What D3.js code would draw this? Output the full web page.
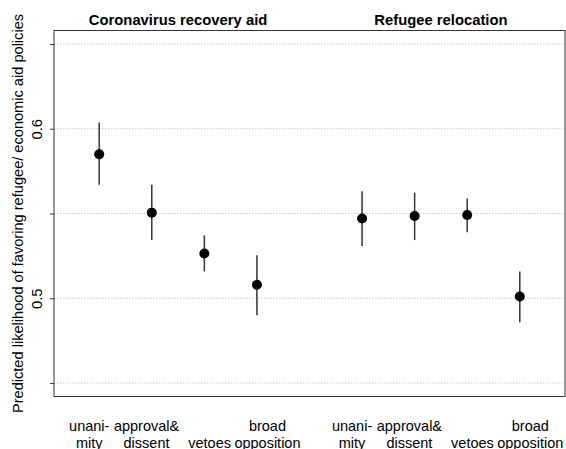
<!DOCTYPE html>
<html>
<head>
<meta charset="utf-8">
<script src="https://cdn.jsdelivr.net/npm/d3@7"></script>
<style>
  html, body { margin: 0; padding: 0; background: #fff; }
  svg { display: block; }
  text { font-family: "Liberation Sans", Arial, sans-serif; fill: #000; }
</style>
</head>
<body>
<svg id="chart" width="566" height="449"></svg>
<script>
// Panels and decision-rule categories
const panels = ["Coronavirus recovery aid", "Refugee relocation"];
const categoryLine1 = ["unani-", "approval&", "", "broad"];
const categoryLine2 = ["mity", "dissent", "vetoes", "opposition"];

// Predicted likelihoods with confidence intervals
const coronaEst = [0.585, 0.5505, 0.5264, 0.5079];
const coronaLo  = [0.567, 0.5343, 0.5158, 0.4900];
const coronaHi  = [0.6037, 0.5670, 0.5371, 0.5253];

const refugeeEst = [0.5470, 0.5485, 0.5491, 0.5010];
const refugeeLo  = [0.5308, 0.5343, 0.5390, 0.4858];
const refugeeHi  = [0.5631, 0.5623, 0.5588, 0.5158];

// Y axis
const yTicks = [0.45, 0.5, 0.55, 0.6, 0.65];
const yTickLabels = ["", "0.5", "", "0.6", ""];
const yTitle = "Predicted likelihood of favoring refugee/ economic aid policies";

const estimates = [coronaEst, refugeeEst];
const lows = [coronaLo, refugeeLo];
const highs = [coronaHi, refugeeHi];

const points = [];
panels.forEach((p, pi) => {
  categoryLine2.forEach((c, ci) => {
    points.push({ pos: pi * 5 + ci + 1, est: estimates[pi][ci], lo: lows[pi][ci], hi: highs[pi][ci] });
  });
});

const svg = d3.select("#chart");
const plotLeft = 54, plotRight = 565, plotTop = 30.5, plotBottom = 396.5;

const x = d3.scaleLinear().domain([0.14, 9.86]).range([plotLeft, plotRight]);
const y = d3.scaleLinear().domain([0.442, 0.658]).range([plotBottom, plotTop]);

// Dotted reference lines
svg.append("g").selectAll("line").data(yTicks).join("line")
  .attr("x1", plotLeft).attr("x2", plotRight)
  .attr("y1", d => y(d)).attr("y2", d => y(d))
  .attr("stroke", "#c8c8c8").attr("stroke-width", 1)
  .attr("stroke-dasharray", "1.5,1.5");

// Frame
svg.append("rect")
  .attr("x", plotLeft).attr("y", plotTop)
  .attr("width", plotRight - plotLeft).attr("height", plotBottom - plotTop)
  .attr("fill", "none").attr("stroke", "#333").attr("stroke-width", 1);

// Y axis ticks and rotated labels
const yAxis = d3.axisLeft(y).tickValues(yTicks).tickSize(4)
  .tickFormat((d, i) => yTickLabels[i]);
const gy = svg.append("g").attr("transform", `translate(${plotLeft},0)`).call(yAxis);
gy.select(".domain").remove();
gy.selectAll(".tick line").attr("stroke", "#333");
gy.selectAll(".tick text")
  .attr("x", 0).attr("y", 0).attr("dy", null)
  .attr("text-anchor", "middle")
  .attr("transform", "translate(-12,0) rotate(-90)")
  .style("font-size", "14.8px")
  .style("font-family", "'Liberation Sans', Arial, sans-serif")
  .attr("fill", "#000");

// Y axis title
svg.append("text")
  .attr("transform", `translate(23,${(plotTop + plotBottom) / 2}) rotate(-90)`)
  .attr("text-anchor", "middle")
  .style("font-size", "14.6px")
  .text(yTitle);

// Panel titles
panels.forEach((p, pi) => {
  svg.append("text")
    .attr("x", x(pi * 5 + 2.5)).attr("y", 24.5)
    .attr("text-anchor", "middle")
    .style("font-size", "14.8px").style("font-weight", "bold")
    .text(p);
});

// Category labels, spread slightly apart from the markers
const labelShift = [-0.19, -0.1, 0.1, 0.2];
panels.forEach((p, pi) => {
  categoryLine2.forEach((c, ci) => {
    const cx = x(pi * 5 + ci + 1 + labelShift[ci]);
    const t = svg.append("text").attr("text-anchor", "middle").style("font-size", "14.5px");
    if (categoryLine1[ci]) t.append("tspan").attr("x", cx).attr("y", 431).text(categoryLine1[ci]);
    t.append("tspan").attr("x", cx).attr("y", 448).text(c);
  });
});

// Confidence intervals
svg.append("g").selectAll("line").data(points).join("line")
  .attr("x1", d => x(d.pos)).attr("x2", d => x(d.pos))
  .attr("y1", d => y(d.lo)).attr("y2", d => y(d.hi))
  .attr("stroke", "#333").attr("stroke-width", 1.5);

// Point estimates
svg.append("g").selectAll("circle").data(points).join("circle")
  .attr("cx", d => x(d.pos)).attr("cy", d => y(d.est))
  .attr("r", 5).attr("fill", "#000");
</script>
</body>
</html>
